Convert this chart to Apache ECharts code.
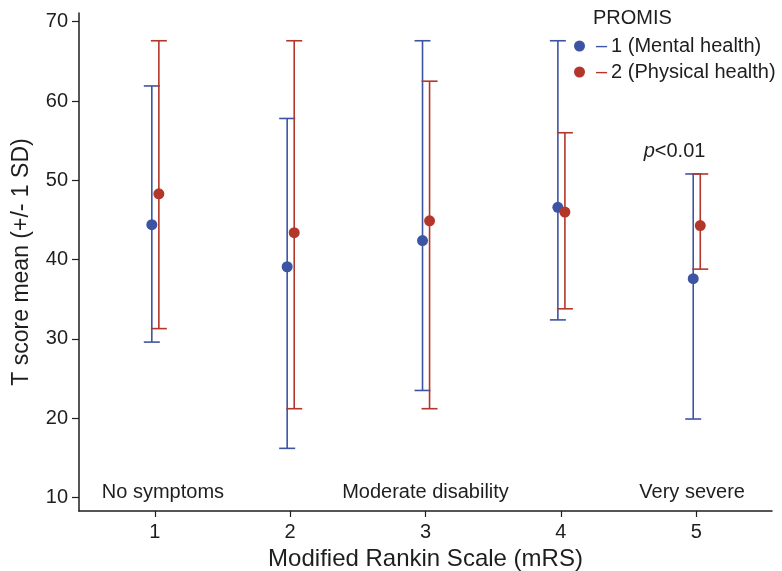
<!DOCTYPE html>
<html>
<head>
<meta charset="utf-8">
<script src="https://cdn.jsdelivr.net/npm/echarts@6/dist/echarts.min.js"></script>
<style>
  html, body { margin: 0; padding: 0; background: #fff; }
  #chart { width: 782px; height: 571px; }
</style>
</head>
<body>
<div id="chart"></div>
<script>
// mRS categories
var mrs = [1, 2, 3, 4, 5];
// PROMIS 1 (Mental health): mean, mean - SD, mean + SD
var mentalMean = [44.4, 39.1, 42.4, 46.6, 37.6];
var mentalLow = [29.6, 16.2, 23.5, 32.4, 19.9];
var mentalHigh = [61.9, 57.8, 67.6, 67.6, 50.8];
// PROMIS 2 (Physical health)
var physMean = [48.3, 43.4, 44.9, 46.0, 44.3];
var physLow = [31.3, 21.2, 21.2, 33.8, 38.8];
var physHigh = [67.6, 67.6, 62.5, 56.0, 50.8];
// annotations inside the plot
var bandLabels = ['No symptoms', 'Moderate disability', 'Very severe'];
var bandX = [1.06, 3, 4.97];
var yTicks = [10, 20, 30, 40, 50, 60, 70];

var blue = '#3d54a3';
var red = '#b3362a';
var ink = '#1e1e1e';
var font = 'Liberation Sans';

var chart = echarts.init(document.getElementById('chart'));

function errData(low, high, shift) {
    return mrs.map(function (m, i) { return [m + shift, low[i], high[i]]; });
}
function meanData(mean, shift) {
    return mrs.map(function (m, i) { return [m + shift, mean[i]]; });
}
function errBar(color) {
    return function (params, api) {
        var x = api.value(0);
        var lo = api.coord([x, api.value(1)]);
        var hi = api.coord([x, api.value(2)]);
        var w = 8;
        var style = { stroke: color, lineWidth: 1.6 };
        return {
            type: 'group',
            children: [
                { type: 'line', shape: { x1: lo[0], y1: lo[1], x2: hi[0], y2: hi[1] }, style: style },
                { type: 'line', shape: { x1: lo[0] - w, y1: lo[1], x2: lo[0] + w, y2: lo[1] }, style: style },
                { type: 'line', shape: { x1: hi[0] - w, y1: hi[1], x2: hi[0] + w, y2: hi[1] }, style: style }
            ]
        };
    };
}

var option = {
    backgroundColor: '#fff',
    textStyle: { fontFamily: font },
    animation: false,
    grid: { left: 79, right: 10, top: 13, bottom: 60, containLabel: false, outerBoundsMode: 'none' },
    xAxis: {
        type: 'value',
        min: 0.44,
        max: 5.56,
        name: 'Modified Rankin Scale (mRS)',
        nameLocation: 'middle',
        nameGap: 29,
        nameTextStyle: { color: ink, fontSize: 24, fontFamily: font },
        splitLine: { show: false },
        axisLine: { lineStyle: { color: ink, width: 1.5 } },
        axisTick: { customValues: mrs, length: 6, lineStyle: { color: ink, width: 1.2 } },
        axisLabel: { customValues: mrs, color: ink, fontSize: 20, margin: 11, fontFamily: font }
    },
    yAxis: {
        type: 'value',
        min: 8.3,
        max: 71.1,
        name: 'T score mean (+/- 1 SD)',
        nameLocation: 'middle',
        nameGap: 46,
        nameTextStyle: { color: ink, fontSize: 23, fontFamily: font },
        splitLine: { show: false },
        axisLine: { show: true, lineStyle: { color: ink, width: 1.5 } },
        axisTick: { show: true, customValues: yTicks, length: 7, lineStyle: { color: ink, width: 1.2 } },
        axisLabel: { customValues: yTicks, color: ink, fontSize: 20, margin: 11, fontFamily: font }
    },
    legend: {
        data: ['1 (Mental health)', '2 (Physical health)'],
        orient: 'vertical',
        left: 569,
        top: 31,
        itemWidth: 11,
        itemHeight: 11,
        itemGap: 6,
        icon: 'circle',
        formatter: function (name) {
            return (name.charAt(0) === '1' ? '{b|–}' : '{r|–}') + name;
        },
        textStyle: {
            color: ink,
            fontSize: 20,
            fontFamily: font,
            rich: {
                b: { color: blue, fontSize: 20, fontFamily: font, padding: [0, 4, 0, 6] },
                r: { color: red, fontSize: 20, fontFamily: font, padding: [0, 4, 0, 6] }
            }
        }
    },
    graphic: [
        {
            type: 'text',
            left: 593,
            top: 8,
            style: { text: 'PROMIS', fill: ink, fontSize: 20, fontFamily: font }
        }
    ],
    series: [
        {
            name: 'mental sd',
            type: 'custom',
            renderItem: errBar(blue),
            data: errData(mentalLow, mentalHigh, -0.022),
            encode: { x: 0, y: [1, 2] },
            z: 2
        },
        {
            name: 'physical sd',
            type: 'custom',
            renderItem: errBar(red),
            data: errData(physLow, physHigh, 0.03),
            encode: { x: 0, y: [1, 2] },
            z: 2
        },
        {
            name: '1 (Mental health)',
            type: 'scatter',
            symbolSize: 11,
            itemStyle: { color: blue, opacity: 1 },
            data: meanData(mentalMean, -0.022),
            z: 3
        },
        {
            name: '2 (Physical health)',
            type: 'scatter',
            symbolSize: 11,
            itemStyle: { color: red, opacity: 1 },
            data: meanData(physMean, 0.03),
            z: 3
        },
        {
            name: 'bands',
            type: 'scatter',
            symbolSize: 0,
            silent: true,
            itemStyle: { opacity: 1 },
            data: bandX.map(function (x, i) { return { value: [x, 10.6], label: { formatter: bandLabels[i] } }; }),
            label: {
                show: true,
                position: 'inside',
                color: ink,
                fontSize: 20,
                fontFamily: font
            }
        },
        {
            name: 'pvalue',
            type: 'scatter',
            symbolSize: 0,
            silent: true,
            itemStyle: { opacity: 1 },
            data: [[4.84, 53.6]],
            label: {
                show: true,
                position: 'inside',
                formatter: '{i|p}<0.01',
                color: ink,
                fontSize: 20,
                fontFamily: font,
                rich: { i: { fontStyle: 'italic', fontSize: 20, color: ink, fontFamily: font } }
            }
        }
    ]
};
chart.setOption(option);
</script>
</body>
</html>
